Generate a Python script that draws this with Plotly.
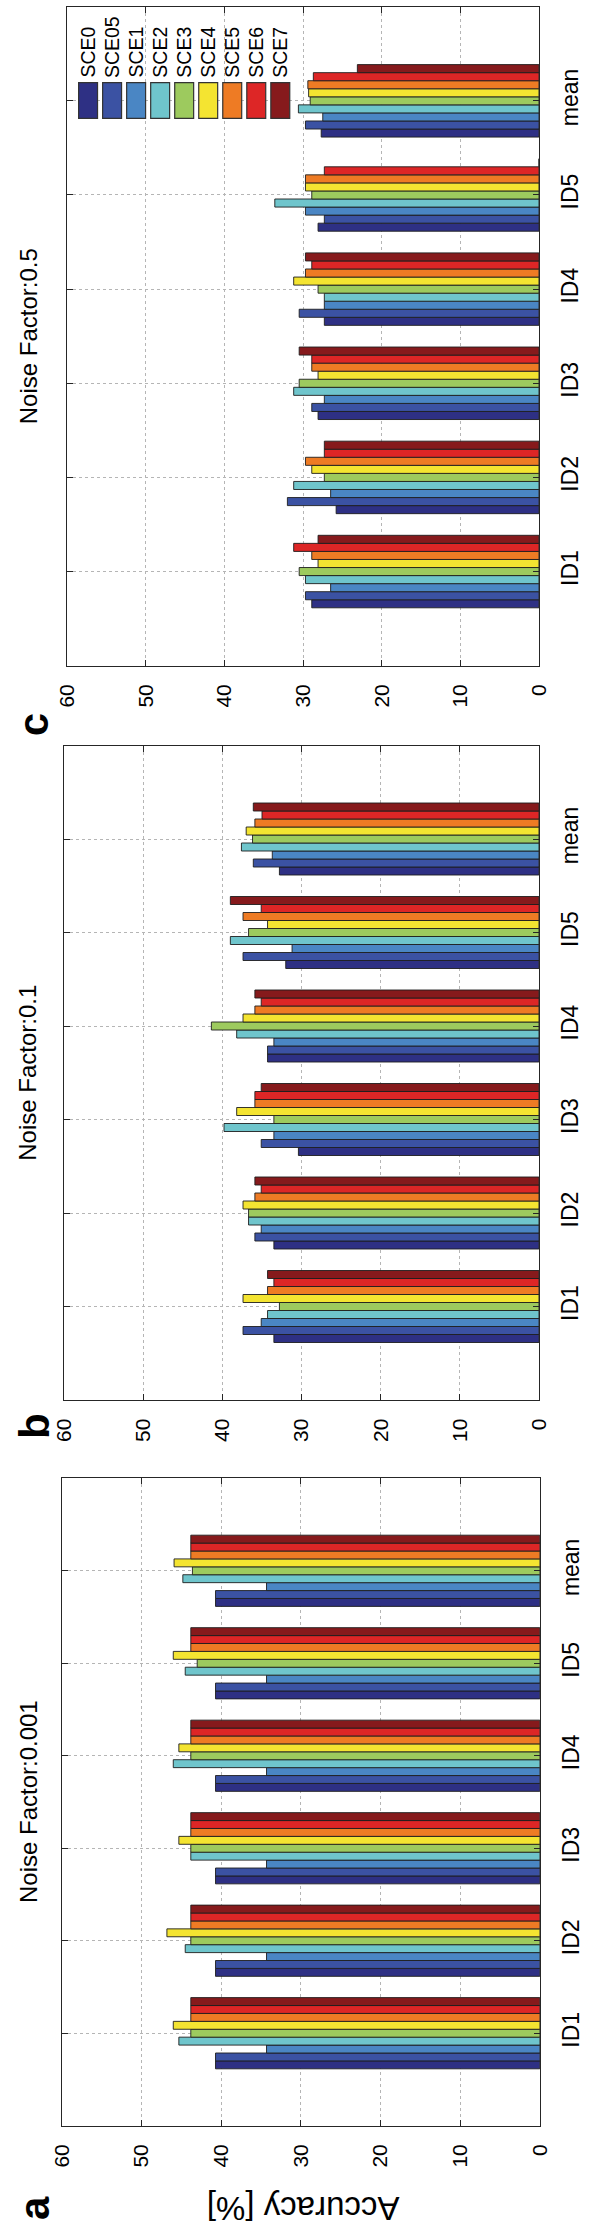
import plotly.graph_objects as go

W, H = 591, 2233

categories = ["ID1", "ID2", "ID3", "ID4", "ID5", "mean"]
series = ["SCE0", "SCE05", "SCE1", "SCE2", "SCE3", "SCE4", "SCE5", "SCE6", "SCE7"]
colors = ["#2e3084", "#3b52a3", "#4a86c4", "#6fc5cc", "#9dca5e",
          "#f4e431", "#ee7b24", "#dd2626", "#861a1c"]
value_ticks = [0, 10, 20, 30, 40, 50, 60]

# rows: SCE0 .. SCE7 ; columns: ID1 .. ID5, mean  (Accuracy in %)
acc_nf0001 = [
    [40.7, 40.7, 40.7, 40.7, 40.7, 40.7],
    [40.7, 40.7, 40.7, 40.7, 40.7, 40.7],
    [34.3, 34.3, 34.3, 34.3, 34.3, 34.3],
    [45.3, 44.5, 43.8, 46.0, 44.5, 44.8],
    [43.8, 43.8, 43.8, 43.8, 43.0, 43.6],
    [46.0, 46.8, 45.3, 45.3, 46.0, 45.9],
    [43.8, 43.8, 43.8, 43.8, 43.8, 43.8],
    [43.8, 43.8, 43.8, 43.8, 43.8, 43.8],
    [43.8, 43.8, 43.8, 43.8, 43.8, 43.8],
]
acc_nf01 = [
    [33.5, 33.5, 30.4, 34.3, 32.0, 32.8],
    [37.4, 35.9, 35.1, 34.3, 37.4, 36.1],
    [35.1, 35.1, 33.5, 33.5, 31.2, 33.7],
    [34.3, 36.7, 39.8, 38.2, 39.0, 37.6],
    [32.8, 36.7, 33.5, 41.4, 36.7, 36.2],
    [37.4, 37.4, 38.2, 37.4, 34.3, 37.0],
    [34.3, 35.9, 35.9, 35.9, 37.4, 35.9],
    [33.5, 35.1, 35.9, 35.1, 35.1, 35.0],
    [34.3, 35.9, 35.1, 35.9, 39.0, 36.1],
]
acc_nf05 = [
    [28.9, 25.8, 28.1, 27.3, 28.1, 27.7],
    [29.7, 32.0, 28.9, 30.5, 27.3, 29.7],
    [26.5, 26.5, 27.3, 27.3, 29.7, 27.5],
    [29.7, 31.2, 31.2, 27.3, 33.6, 30.6],
    [30.5, 27.3, 30.5, 28.1, 28.9, 29.1],
    [28.1, 28.9, 28.1, 31.2, 29.7, 29.3],
    [28.9, 29.7, 28.9, 29.7, 29.7, 29.4],
    [31.2, 27.3, 28.9, 28.9, 27.3, 28.7],
    [28.1, 27.3, 30.5, 29.7, 0.0, 23.1],
]

cat_pos = list(range(1, len(categories) + 1))

# panel boxes in pixels (left, right, top, bottom)
panels = [
    dict(data=acc_nf05, title="Noise Factor:0.5", letter="c", box=(57.5, 548.3, 6.7, 665.7), letter_xy=(22, 725)),
    dict(data=acc_nf01, title="Noise Factor:0.1", letter="b", box=(54.3, 548.3, 745.5, 1400.0), letter_xy=(23, 1426)),
    dict(data=acc_nf0001, title="Noise Factor:0.001", letter="a", box=(51.7, 549.3, 1478.3, 2125.7), letter_xy=(23, 2208)),
]

FONT = "Liberation Sans, Arial, sans-serif"
fig = go.Figure()
annotations = []
shapes = []

def px(x):
    return x / W

def py(y):
    return 1 - y / H

for k, p in enumerate(panels, start=1):
    for j, s in enumerate(series):
        fig.add_trace(go.Bar(
            x=p["data"][j], y=cat_pos, orientation="h", name=s,
            marker=dict(color=colors[j], line=dict(color="#1e1e1e", width=0.9)),
            xaxis=f"x{k}", yaxis=f"y{k}", showlegend=False,
        ))
    x0, x1, y0, y1 = p["box"]
    common = dict(showline=True, linecolor="#262626", linewidth=1.3, mirror="ticks",
                  ticks="inside", ticklen=6, tickcolor="#262626", tickwidth=1,
                  showgrid=True, gridcolor="#b5b5b5", griddash="dot", gridwidth=1,
                  zeroline=False, tickangle=-90)
    fig.layout[f"xaxis{k}"] = dict(
        domain=[px(x0), px(x1)], range=[60, 0], tickvals=value_ticks,
        anchor=f"y{k}", tickfont=dict(size=21, color="black", family=FONT),
        ticklabelstandoff=9, **common)
    fig.layout[f"yaxis{k}"] = dict(
        domain=[py(y1), py(y0)], range=[0, 7], tickvals=cat_pos, ticktext=categories,
        side="right", anchor=f"x{k}", tickfont=dict(size=23, color="black", family=FONT),
        ticklabelstandoff=10, **common)
    annotations.append(dict(
        text=p["title"], x=px(16.7), y=py((y0 + y1) / 2), xref="paper", yref="paper",
        textangle=-90, showarrow=False, xanchor="center", yanchor="middle",
        font=dict(size=24, color="black", family=FONT)))
    lx, ly = p["letter_xy"]
    annotations.append(dict(
        text=f"<b>{p['letter']}</b>", x=px(lx), y=py(ly), xref="paper", yref="paper",
        textangle=-90, showarrow=False, xanchor="center", yanchor="middle",
        font=dict(size=42, color="black", family=FONT)))

annotations.append(dict(
    text="Accuracy [%]", x=px(303), y=py(2209), xref="paper", yref="paper",
    textangle=180, showarrow=False, xanchor="center", yanchor="middle",
    font=dict(size=33, color="black", family=FONT)))

# manual legend (rotated) inside panel c
for j, s in enumerate(series):
    sx0 = 69.3 + 25 * j
    sx1 = sx0 + 19.7
    shapes.append(dict(type="rect", xref="paper", yref="paper",
                       x0=px(sx0), x1=px(sx1), y0=py(118.3), y1=py(82.7),
                       fillcolor=colors[j], line=dict(color="#333333", width=1.2)))
    annotations.append(dict(
        text=s, x=px((sx0 + sx1) / 2), y=py(80), xref="paper", yref="paper",
        textangle=-90, showarrow=False, xanchor="center", yanchor="bottom",
        font=dict(size=19.5, color="black", family=FONT)))

fig.update_layout(
    width=W, height=H, margin=dict(l=0, r=0, t=0, b=0),
    plot_bgcolor="white", paper_bgcolor="white",
    barmode="group", bargap=0.23, bargroupgap=0,
    font=dict(family=FONT, color="black"),
    annotations=annotations, shapes=shapes,
)

fig.write_html("out.html", config={"displayModeBar": False},
               post_script="document.body.style.margin='0';document.body.style.overflow='hidden';")
